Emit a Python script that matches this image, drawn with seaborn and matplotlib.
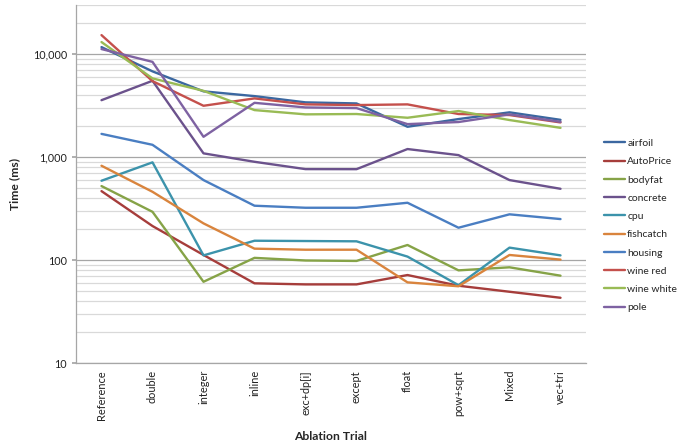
import matplotlib
matplotlib.use("Agg")
import matplotlib.pyplot as plt
import matplotlib.ticker as mticker
import seaborn as sns
import pandas as pd

trials = ["Reference", "double", "integer", "inline", "exc+dp[i]", "except",
          "float", "pow+sqrt", "Mixed", "vec+tri"]

airfoil    = [11700, 6800, 4350, 3910, 3400, 3320, 1970, 2340, 2720, 2300]
autoprice  = [467, 214, 112, 59.4, 58, 58, 71.5, 56.3, 49.2, 43]
bodyfat    = [523, 294, 61.5, 105, 99, 98, 140, 79.4, 85, 70.5]
concrete   = [3570, 5510, 1087, 900, 764, 763, 1197, 1045, 598, 492]
cpu        = [589, 889, 111, 154, 153, 152, 108, 57, 132, 111]
fishcatch  = [824, 460, 227, 129, 126, 126, 60.7, 55.6, 112, 101]
housing    = [1680, 1316, 598, 337, 322, 322, 360, 206, 278, 250]
wine_red   = [15300, 5470, 3150, 3715, 3250, 3200, 3250, 2620, 2560, 2170]
wine_white = [13100, 5810, 4400, 2860, 2600, 2620, 2410, 2800, 2290, 1923]
pole       = [11200, 8410, 1574, 3365, 3035, 2990, 2090, 2190, 2600, 2200]

series_names = ["airfoil", "AutoPrice", "bodyfat", "concrete", "cpu",
                "fishcatch", "housing", "wine red", "wine white", "pole"]
series_values = [airfoil, autoprice, bodyfat, concrete, cpu,
                 fishcatch, housing, wine_red, wine_white, pole]

colors = ["#3B67A0", "#A63D3B", "#86A347", "#6B528C", "#3C93AB",
          "#D9843D", "#4A7EC2", "#C4504C", "#99BB55", "#7E62A2"]

rows = []
for name, vals in zip(series_names, series_values):
    for t, v in zip(trials, vals):
        rows.append({"Trial": t, "Time": v, "Dataset": name})
df = pd.DataFrame(rows)

sns.set_theme(style="white")
plt.rcParams["font.family"] = ["Lato", "DejaVu Sans"]

fig = plt.figure(figsize=(6.77, 4.47), dpi=100)
ax = fig.add_axes([76/677, 1-363/447, 510/677, 358/447])

sns.lineplot(data=df, x="Trial", y="Time", hue="Dataset",
             hue_order=series_names, palette=colors, sort=False,
             linewidth=1.7, ax=ax, legend=True)

ax.set_yscale("log")
ax.set_ylim(10, 30000)
ax.set_xlim(-0.5, len(trials) - 0.5)

ax.yaxis.set_major_locator(mticker.LogLocator(base=10, numticks=10))
ax.yaxis.set_minor_locator(mticker.LogLocator(base=10, subs=range(2, 10), numticks=20))
ax.yaxis.set_major_formatter(mticker.FuncFormatter(lambda v, p: f"{int(round(v)):,}"))
ax.yaxis.set_minor_formatter(mticker.NullFormatter())

ax.grid(True, which="major", axis="y", color="#A6A6A6", linewidth=0.9)
ax.grid(True, which="minor", axis="y", color="#D9D9D9", linewidth=0.9)
ax.set_axisbelow(True)

ax.set_xticks(range(len(trials)))
ax.set_xticklabels(trials, rotation=90, fontsize=7.9, color="#222222")
ax.tick_params(axis="y", which="major", labelsize=7.8, length=3, color="#A6A6A6",
               left=True, labelcolor="#222222")
ax.tick_params(axis="y", which="minor", length=0)
ax.tick_params(axis="x", length=0, pad=5)

for s in ["top", "right"]:
    ax.spines[s].set_visible(False)
for s in ["left", "bottom"]:
    ax.spines[s].set_color("#A6A6A6")
    ax.spines[s].set_linewidth(0.9)

ax.set_xlabel("Ablation Trial", fontsize=8.7, fontweight="bold", labelpad=8)
ax.set_ylabel("Time (ms)", fontsize=8.7, fontweight="bold", labelpad=9)

handles, labels = ax.get_legend_handles_labels()
ax.legend(handles, labels, loc="center left", bbox_to_anchor=(599/677, 1-225.5/447),
          bbox_transform=fig.transFigure, frameon=False, fontsize=7.5,
          handlelength=2.0, handletextpad=0.2, labelspacing=0.86, borderpad=0)

fig.savefig("out.png", dpi=100)
